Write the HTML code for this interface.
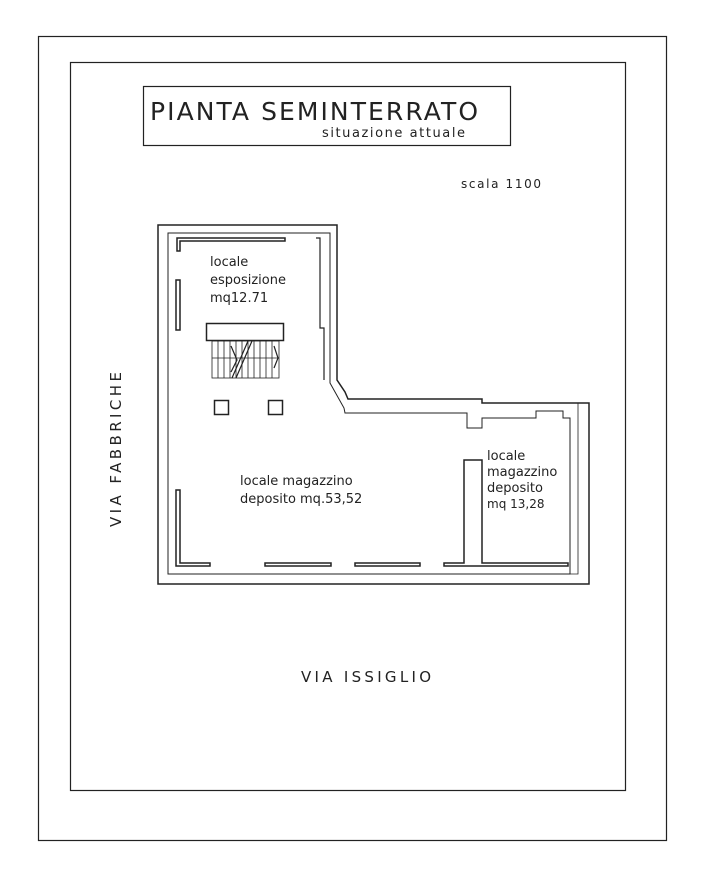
<!DOCTYPE html>
<html><head><meta charset="utf-8"><style>
body{margin:0;background:#fff;width:708px;height:889px;overflow:hidden}
svg text{font-family:"DejaVu Sans","Liberation Sans",sans-serif;fill:#222}
</style></head><body>
<svg width="708" height="889" viewBox="0 0 708 889" xmlns="http://www.w3.org/2000/svg" fill="none" stroke="#222">
<rect x="38.5" y="36.5" width="628" height="804" stroke-width="1.2"/>
<rect x="70.5" y="62.5" width="555" height="728" stroke-width="1.2"/>
<rect x="143.5" y="86.5" width="367" height="59" stroke-width="1.2"/>
<text x="150" y="120" font-size="25" stroke="none" textLength="328" lengthAdjust="spacing">PIANTA SEMINTERRATO</text>
<text x="322" y="137" font-size="13" stroke="none" textLength="143" lengthAdjust="spacing">situazione attuale</text>
<text x="461" y="188" font-size="12" stroke="none" textLength="80" lengthAdjust="spacing">scala 1100</text>
<text x="301" y="682" font-size="15" stroke="none" textLength="130" lengthAdjust="spacing">VIA ISSIGLIO</text>
<text transform="translate(121,527) rotate(-90)" font-size="15" stroke="none" textLength="155" lengthAdjust="spacing">VIA FABBRICHE</text>
<g stroke-width="1.5">
<path d="M158 225 H337 V380 L345 392 L348 399 H482 V403 H589 V584 H158 Z"/>
<path d="M168 233 H330 V383 L344 408 L345 413 H467 V428 H482 V418 H536 V411 H563 V418 H570 V574 H168 Z" stroke-width="1"/>
<path d="M578 403 V574 H168" stroke-width="0.8"/>
</g>
<g stroke-width="1.5">
<path d="M177 251 V238 H285 V241 H180 V251 Z"/>
<path d="M176 280 H180 V330 H176 Z"/>
<path d="M176 490 H180 V563 H210 V566 H176 Z"/>
<path d="M265 563 H331 V566 H265 Z"/>
<path d="M355 563 H420 V566 H355 Z"/>
<path d="M444 563 H464 V460 H482 V563 H568 V566 H444 Z"/>
<path d="M316 238 H320 V328 H324 V380" stroke-width="1.2"/>
</g>
<rect x="206.5" y="323.5" width="77" height="17" stroke-width="1.5"/>
<g stroke-width="0.8">
<rect x="212" y="341" width="67" height="37"/>
<path d="M218 341V378M224 341V378M230 341V378M236 341V378M242 341V378M248 341V378M254 341V378M260 341V378M266 341V378M272 341V378M212 358H279"/>
<path d="M232 378 L248 341 M236 378 L252 341 M231 346 L237 360 L231 372 M274 346 L278 358 L274 368" stroke-width="1.2"/>
</g>
<rect x="214.5" y="400.5" width="14" height="14" stroke-width="1.5"/>
<rect x="268.5" y="400.5" width="14" height="14" stroke-width="1.5"/>
<g stroke="none" font-size="13">
<text x="210" y="266">locale</text>
<text x="210" y="284">esposizione</text>
<text x="210" y="302">mq12.71</text>
<text x="240" y="485">locale magazzino</text>
<text x="240" y="503">deposito mq.53,52</text>
<text x="487" y="460">locale</text>
<text x="487" y="476">magazzino</text>
<text x="487" y="492">deposito</text>
<text x="487" y="508" font-size="12">mq 13,28</text>
</g>
</svg>
</body></html>
